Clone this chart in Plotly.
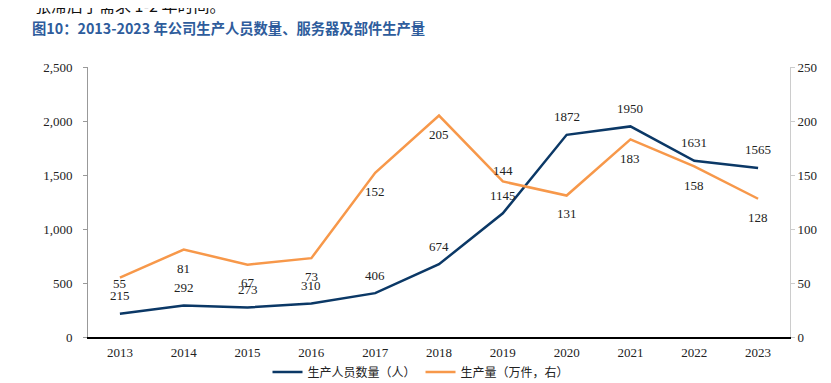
import plotly.graph_objects as go

years = ["2013", "2014", "2015", "2016", "2017", "2018", "2019", "2020", "2021", "2022", "2023"]
staff = [215, 292, 273, 310, 406, 674, 1145, 1872, 1950, 1631, 1565]
output = [55, 81, 67, 73, 152, 205, 144, 131, 183, 158, 128]
left_ticks = [0, 500, 1000, 1500, 2000, 2500]
right_ticks = [0, 50, 100, 150, 200, 250]

staff_name = "生产人员数量（人）"
output_name = "生产量（万件，右）"
title_text = "图10：2013-2023 年公司生产人员数量、服务器及部件生产量"
top_text = "张滞后于需求 1-2 年时间。"

BLUE = "#0B3866"
ORANGE = "#F7984A"
SERIF = "Liberation Serif, Times New Roman, serif"
CJK = "Noto Sans CJK SC, sans-serif"

# label vertical offsets (px)
staff_shift = [18] * 11
output_shift = [-6, -19, -18, -18, -19, -19, 11, -18, -19, -19, -19]

# page body has an 8px margin: compensate
OFF = 8
W, H = 831, 383
L, R, T, B = 88 - OFF, 41 + OFF, 67 - OFF, 46 + OFF
pw, ph = W - L - R, H - T - B


def px_to_paper(px, py):
    return (px - OFF - L) / pw, (H - B - (py - OFF)) / ph


fig = go.Figure()
fig.add_trace(go.Scatter(x=years, y=staff, mode="lines", name=staff_name,
                         line=dict(color=BLUE, width=2.5), yaxis="y"))
fig.add_trace(go.Scatter(x=years, y=output, mode="lines", name=output_name,
                         line=dict(color=ORANGE, width=2.5), yaxis="y2"))

annotations = []
for i, (v, s) in enumerate(zip(staff, staff_shift)):
    annotations.append(dict(x=i, y=v, xref="x", yref="y", text=str(v), showarrow=False,
                            yshift=s, font=dict(family=SERIF, size=13, color="#222222")))
for i, (v, s) in enumerate(zip(output, output_shift)):
    annotations.append(dict(x=i, y=v, xref="x", yref="y2", text=str(v), showarrow=False,
                            yshift=s, font=dict(family=SERIF, size=13, color="#222222")))

tx, ty = px_to_paper(30, 27)
annotations.append(dict(x=tx, y=ty, xref="paper", yref="paper", text="<b>" + title_text + "</b>",
                        showarrow=False, xanchor="left", yanchor="middle",
                        font=dict(family=CJK, size=14.3, color="#2E5C9C")))
sx, sy = px_to_paper(33, 5)
annotations.append(dict(x=sx, y=sy, xref="paper", yref="paper", text=top_text,
                        showarrow=False, xanchor="left", yanchor="middle",
                        font=dict(family=CJK, size=16, color="#111111")))

lx, ly = px_to_paper(421, 372)

fig.update_layout(
    width=W, height=H,
    margin=dict(l=L, r=R, t=T, b=B, autoexpand=False),
    paper_bgcolor="white", plot_bgcolor="white",
    showlegend=True,
    annotations=annotations,
    legend=dict(orientation="h", x=lx, xanchor="center", y=ly, yanchor="middle",
                font=dict(family=CJK, size=12, color="#222222")),
    xaxis=dict(type="category", range=[-0.5, 10.5], showline=True, linecolor="#000000",
               linewidth=1.5, ticks="", showgrid=False, zeroline=False, automargin=False,
               ticklabelstandoff=3,
               tickfont=dict(family=SERIF, size=13, color="#222222")),
    yaxis=dict(range=[0, 2500], tickvals=left_ticks, tickformat=",", showline=True,
               linecolor="#999999", linewidth=1, ticks="outside", ticklen=4,
               tickcolor="#999999", showgrid=False, zeroline=False, automargin=False,
               ticklabelstandoff=8,
               tickfont=dict(family=SERIF, size=13, color="#222222")),
    yaxis2=dict(range=[0, 250], tickvals=right_ticks, overlaying="y", side="right",
                showline=True, linecolor="#cccccc", linewidth=1, ticks="outside",
                ticklen=4, tickcolor="#cccccc", showgrid=False, zeroline=False, automargin=False,
                tickfont=dict(family=SERIF, size=13, color="#222222")),
)

fig.write_html("out.html")
